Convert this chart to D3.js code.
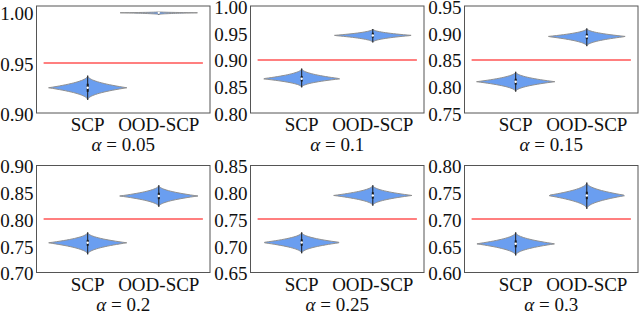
<!DOCTYPE html>
<html>
<head>
<meta charset="utf-8">
<script src="https://cdn.jsdelivr.net/npm/d3@7"></script>
<style>
  body { margin: 0; background: #fff; }
  text { font-family: "Liberation Serif", "DejaVu Serif", serif; fill: #111; }
</style>
</head>
<body>
<svg width="640" height="313"></svg>
<script>
// chart values
var alphas = [0.05, 0.1, 0.15, 0.2, 0.25, 0.3];
var targets = [0.95, 0.90, 0.85, 0.80, 0.75, 0.70];
var methods = ["SCP", "OOD-SCP"];
var yDomains = [[0.90, 1.006], [0.80, 1.00], [0.75, 0.95], [0.70, 0.90], [0.65, 0.85], [0.60, 0.80]];
var yTickValues = [
    [0.90, 0.95, 1.00],
    [0.80, 0.85, 0.90, 0.95, 1.00],
    [0.75, 0.80, 0.85, 0.90, 0.95],
    [0.70, 0.75, 0.80, 0.85, 0.90],
    [0.65, 0.70, 0.75, 0.80, 0.85],
    [0.60, 0.65, 0.70, 0.75, 0.80]
];

// coverage per alpha (SCP)
var scpLo  = [0.913, 0.848, 0.790, 0.734, 0.686, 0.632];
var scpQ1  = [0.921, 0.859, 0.803, 0.750, 0.700, 0.647];
var scpMed = [0.925, 0.864, 0.8085, 0.7555, 0.706, 0.6536];
var scpQ3  = [0.929, 0.869, 0.814, 0.761, 0.712, 0.660];
var scpHi  = [0.937, 0.883, 0.827, 0.775, 0.725, 0.675];

// coverage per alpha (OOD-SCP)
var oodLo  = [0.9976, 0.932, 0.875, 0.823, 0.775, 0.719];
var oodQ1  = [0.9987, 0.941, 0.888, 0.837, 0.788, 0.737];
var oodMed = [0.9993, 0.945, 0.893, 0.843, 0.794, 0.744];
var oodQ3  = [0.9997, 0.950, 0.898, 0.849, 0.800, 0.751];
var oodHi  = [1.0002, 0.957, 0.908, 0.863, 0.813, 0.768];

var svg = d3.select("svg");
var colX = [36.5, 250.5, 464.5];
var rowY = [6, 165.5];
var panelW = 173.5;
var panelH = 107;

var violinFill = "#6a9ef0";
var violinEdge = "#909090";

function violinShape(lo, med, hi) {
    // kernel-like profile, widest at the median, tapering to thin tips
    var pts = [];
    var n = 40;
    for (var i = 0; i <= n; i++) {
        var v = lo + (hi - lo) * i / n;
        var t = v < med ? (med - v) / (med - lo) : (v - med) / (hi - med);
        pts.push({ v: v, w: Math.pow(1 - Math.min(1, t), 2.0) });
    }
    return pts;
}

alphas.forEach(function (a, k) {
    var col = k % 3, row = Math.floor(k / 3);
    var x0 = colX[col], y0 = rowY[row];

    var x = d3.scaleLinear().domain([-0.72, 1.72]).range([0, panelW]);
    var y = d3.scaleLinear().domain(yDomains[k]).range([panelH, 0]);

    var g = svg.append("g").attr("transform", "translate(" + x0 + "," + y0 + ")");

    // target coverage line (snapped to a pixel edge so it stays red)
    var ty = Math.round(y0 + y(targets[k])) - y0;
    g.append("line")
        .attr("x1", x(-0.62)).attr("x2", x(1.62))
        .attr("y1", ty).attr("y2", ty)
        .style("stroke", "red").style("stroke-width", "1.2px");

    var violins = [
        { pos: 0, lo: scpLo[k], q1: scpQ1[k], med: scpMed[k], q3: scpQ3[k], hi: scpHi[k] },
        { pos: 1, lo: oodLo[k], q1: oodQ1[k], med: oodMed[k], q3: oodQ3[k], hi: oodHi[k] }
    ];

    var halfW = 0.55;
    violins.forEach(function (d) {
        var area = d3.area()
            .y(function (p) { return y(p.v); })
            .x0(function (p) { return x(d.pos - halfW * p.w); })
            .x1(function (p) { return x(d.pos + halfW * p.w); });
        g.append("path")
            .attr("d", area(violinShape(d.lo, d.med, d.hi)))
            .attr("fill", violinFill)
            .attr("stroke", violinEdge)
            .attr("stroke-width", 1);

        // inner box
        g.append("line")
            .attr("x1", x(d.pos)).attr("x2", x(d.pos))
            .attr("y1", y(d.lo)).attr("y2", y(d.hi))
            .attr("stroke", "#1a1a1a").attr("stroke-width", 1);
        g.append("line")
            .attr("x1", x(d.pos)).attr("x2", x(d.pos))
            .attr("y1", y(d.q1)).attr("y2", y(d.q3))
            .attr("stroke", "#1a1a1a").attr("stroke-width", 2);
        g.append("circle")
            .attr("cx", x(d.pos)).attr("cy", y(d.med))
            .attr("r", 1.2).attr("fill", "#fff");
    });

    // frame
    g.append("rect")
        .attr("x", 0).attr("y", 0).attr("width", panelW).attr("height", panelH)
        .attr("fill", "none").attr("stroke", "#555").attr("stroke-width", 1);

    // y tick labels
    g.selectAll(".ytick").data(yTickValues[k]).enter().append("text")
        .attr("x", -3).attr("y", function (d) { return y(d); })
        .attr("dy", "0.42em")
        .attr("text-anchor", "end")
        .style("font-size", "19px")
        .text(function (d) { return d3.format(".2f")(d); });

    // x tick labels
    g.selectAll(".xtick").data(methods).enter().append("text")
        .attr("x", function (d, i) { return x(i); })
        .attr("y", 125)
        .attr("text-anchor", "middle")
        .style("font-size", "19px")
        .text(function (d) { return d; });

    // x label
    var lab = g.append("text")
        .attr("x", panelW / 2).attr("y", 145)
        .attr("text-anchor", "middle")
        .style("font-size", "19px");
    lab.append("tspan").style("font-style", "italic").text("α");
    lab.append("tspan").text(" = " + a);
});
</script>
</body>
</html>
